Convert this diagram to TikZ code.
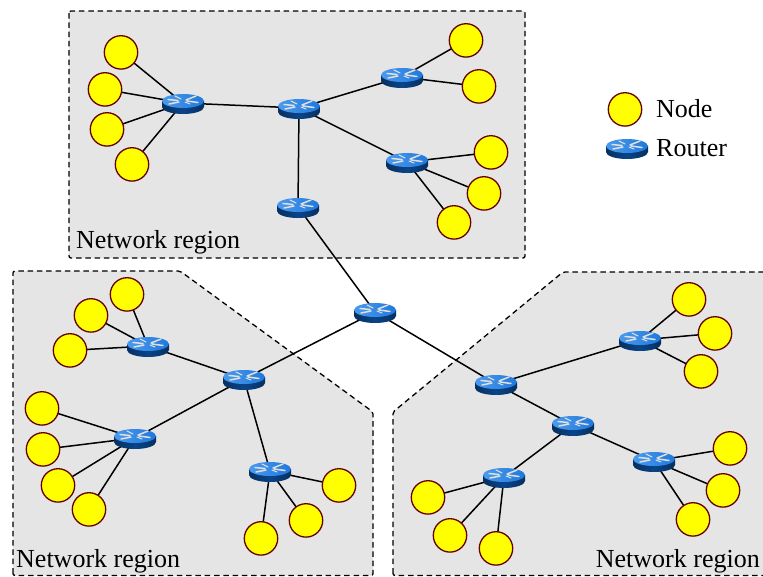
\documentclass[tikz,border=0pt]{standalone}
\usepackage{fontspec}
\setmainfont{Liberation Serif}
\pgfdeclarelayer{regions}
\pgfdeclarelayer{edges}
\pgfsetlayers{regions,edges,main}
\definecolor{regionfill}{HTML}{E5E5E5}
\definecolor{noderim}{HTML}{660000}
\definecolor{hostfill}{RGB}{255,255,0}
\definecolor{rtop}{HTML}{1F78DC}
\definecolor{rtoplight}{HTML}{4A9BEE}
\definecolor{rside}{HTML}{0A4488}
\definecolor{rsidedark}{HTML}{063060}
\tikzset{
  x=1pt,y=-1pt,
  regionbox/.style={fill=regionfill,draw=black,line width=1.3pt,dash pattern=on 5.5pt off 3.8pt,rounded corners=2pt},
  hostnode/.style={circle,draw=noderim,fill=hostfill,line width=1.3pt,minimum size=33.4pt,inner sep=0pt},
  routernode/.style={inner sep=0pt,minimum width=42pt,minimum height=20pt},
  link/.style={draw=black,line width=1.5pt},
  bigtext/.style={font=\fontsize{26}{31}\selectfont,inner sep=0pt,text=black},
  routerglyph/.pic={
    \path[left color=rsidedark,right color=rsidedark,middle color=rside]
      (-21,-2) -- (-21,4) arc[start angle=180,end angle=0,x radius=21,y radius=7]
      -- (21,-2) -- cycle;
    \path[left color=rtoplight,right color=rtop] (0,-2) ellipse[x radius=21,y radius=7];
    \draw[white!75!gray,line width=1.5pt,line cap=round]
      (-15,-3.5)--(-5,-2.5) (-14,1)--(-4,-1) (15,-0.5)--(4,-2) (13,-7)--(3,-3);
    \draw[white!80!gray,line width=1pt,line cap=round] (-8,-7)--(-2,-4) (7,1)--(2,-1);
  }
}
\newcommand{\routerat}[3]{\node[routernode] (#1) at (#2,#3) {}; \pic at (#1) {routerglyph};}
\newcommand{\hostat}[3]{\node[hostnode] (#1) at (#2,#3+0.4) {};}
\newcommand{\linkall}[2]{\foreach \t in {#2} {\draw[link] (#1.center) -- (\t.center);}}
\begin{document}
\begin{tikzpicture}
\useasboundingbox (0,0) rectangle (763,576);
\begin{pgfonlayer}{regions}
  \path[fill=white] (0,0) rectangle (763,576);
  \draw[regionbox] (69,11) rectangle (525,258);
  \draw[regionbox] (13,575.5) -- (13,271) -- (180,271) -- (373,412) -- (373,575.5) -- cycle;
  \draw[regionbox] (393,575.5) -- (393,412) -- (563,272) -- (770,272) -- (770,575.5) -- cycle;
\end{pgfonlayer}
% routers
\routerat{ta}{183}{103}
\routerat{tb}{299}{108}
\routerat{tc}{402}{77}
\routerat{td}{407}{162}
\routerat{te}{298}{207}
\routerat{mid}{375}{312}
\routerat{la}{244}{379}
\routerat{lb}{148}{346}
\routerat{lc}{135}{438}
\routerat{ld}{270}{471}
\routerat{ra}{496}{384}
\routerat{rb}{640}{340}
\routerat{rc}{573}{425}
\routerat{rd}{654}{461}
\routerat{re}{504}{477}
\routerat{legr}{627}{148}
% hosts
\hostat{t1}{121}{52}\hostat{t2}{105}{89}\hostat{t3}{107}{129}\hostat{t4}{132}{164}
\hostat{t5}{466}{40}\hostat{t6}{479}{86}
\hostat{t7}{491}{152}\hostat{t8}{484}{193}\hostat{t9}{454}{222}
\hostat{l1}{127}{294}\hostat{l2}{91}{315}\hostat{l3}{70}{350}
\hostat{l4}{42}{408}\hostat{l5}{43}{449}\hostat{l6}{58}{485}\hostat{l7}{89}{509}
\hostat{l8}{339}{485}\hostat{l9}{306}{520}\hostat{l10}{261}{538}
\hostat{r1}{689}{299}\hostat{r2}{715}{333}\hostat{r3}{701}{371}
\hostat{r4}{730}{448}\hostat{r5}{723}{490}\hostat{r6}{693}{519}
\hostat{r7}{428}{497}\hostat{r8}{450}{535}\hostat{r9}{496}{548}
\hostat{legn}{625}{109}
% connectors
\begin{pgfonlayer}{edges}
  \linkall{tb}{ta,tc,td,te}
  \linkall{mid}{te,la,ra}
  \linkall{ta}{t1,t2,t3,t4}
  \linkall{tc}{t5,t6}
  \linkall{td}{t7,t8,t9}
  \linkall{la}{lb,lc,ld}
  \linkall{lb}{l1,l2,l3}
  \linkall{lc}{l4,l5,l6,l7}
  \linkall{ld}{l8,l9,l10}
  \linkall{ra}{rb,rc}
  \linkall{rb}{r1,r2,r3}
  \linkall{rc}{rd,re}
  \linkall{rd}{r4,r5,r6}
  \linkall{re}{r7,r8,r9}
\end{pgfonlayer}
% labels
\node[bigtext,anchor=base west] (lab1) at (76,248) {Network region};
\node[bigtext,anchor=base west] (lab2) at (16,567.5) {Network region};
\node[bigtext,anchor=base east] (lab3) at (760,567.5) {Network region};
\node[bigtext,anchor=base west] (lab4) at (656,117) {Node};
\node[bigtext,anchor=base west] (lab5) at (656,156) {Router};
\end{tikzpicture}
\end{document}
